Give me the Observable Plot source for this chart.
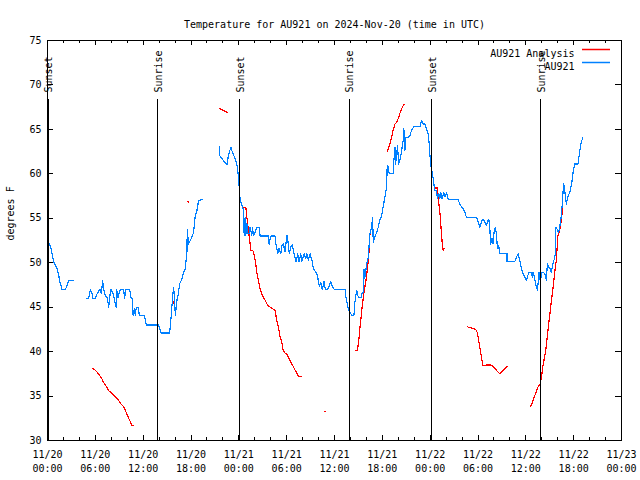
<!DOCTYPE html>
<html><head><meta charset="utf-8">
<script src="https://cdn.jsdelivr.net/npm/d3@7"></script>
<script src="https://cdn.jsdelivr.net/npm/@observablehq/plot@0.6"></script>
<style>body{margin:0;background:#fff}</style>
</head><body><div id="chart"></div>
<script>
// ---- Data (hours after 2024-11-20 00:00 UTC, temperature °F) ----
const titleText = "Temperature for AU921 on 2024-Nov-20 (time in UTC)";
const yLabel = "degrees F";
const seriesNames = ["AU921 Analysis", "AU921"];
const seriesColors = ["#ff0000", "#0080ff"];
const yTicks = [30, 35, 40, 45, 50, 55, 60, 65, 70, 75];
const majorTickHours = [0, 6, 12, 18, 24, 30, 36, 42, 48, 54, 60, 66, 72];
const minorTickHours = d3.range(0, 73, 2);

const sunsetHours = [0.07, 24.10, 48.17];
const sunriseHours = [13.82, 37.86, 61.86];

// observed (blue) segments
const obsSegA = [[0.25,52.1],[0.50,51.4],[0.66,50.6],[0.79,50.1],[1.00,49.7],[1.21,49.3],[1.41,48.6],[1.50,48.0],[1.72,47.4],[1.73,47.0],[2.25,47.0],[2.47,47.5],[2.67,48.0],[3.29,48.0]];
const obsSegB = [[4.85,46.0],[5.17,46.0],[5.38,47.0],[5.60,46.5],[5.67,46.0],[6.01,46.0],[6.22,46.5],[6.42,46.8],[6.64,47.0],[6.76,46.5],[6.92,48.0],[7.05,47.0],[7.26,46.3],[7.48,46.1],[7.68,45.0],[7.76,46.0],[7.98,47.0],[8.23,46.5],[8.39,45.9],[8.60,45.0],[8.68,47.0],[8.85,46.1],[9.02,46.7],[9.14,47.0],[9.55,47.0],[9.68,46.0],[9.80,47.0],[10.31,47.0],[10.48,46.0],[10.64,46.0],[10.73,44.1],[10.89,44.8],[11.02,44.1],[11.14,45.0],[11.36,45.0],[11.52,44.1],[12.15,44.1],[12.40,43.0],[13.74,43.0],[13.94,43.0],[14.24,42.1],[15.31,42.1],[15.40,42.8],[15.53,44.2],[15.69,46.1],[15.82,47.2],[15.94,45.8],[16.03,44.1],[16.24,45.8],[16.37,46.3],[16.57,47.6],[16.87,48.2],[17.07,48.9],[17.28,49.3],[17.49,51.2],[17.53,53.7],[17.69,52.1],[17.91,52.5],[18.12,52.9],[18.32,53.4],[18.53,55.3],[18.75,55.9],[18.95,57.0],[19.37,57.1]];
const obsSegC = [[21.54,63.1],[21.55,62.1],[21.88,61.7],[22.50,61.0],[22.70,62.1],[23.00,63.0],[23.20,62.4],[23.54,61.7],[23.83,60.8],[23.95,59.6],[24.04,58.6],[24.08,57.6],[24.26,56.8],[24.51,56.1],[24.58,56.1],[24.67,53.1],[24.79,55.1],[24.88,53.1],[25.01,54.4],[25.08,53.3],[25.29,53.3],[25.42,54.0],[25.63,53.1],[25.71,54.0],[25.83,53.1],[26.05,53.4],[26.26,54.0],[26.55,54.0],[26.67,53.0],[27.71,53.0],[27.80,52.1],[28.01,53.0],[28.55,53.0],[28.64,52.1],[28.89,51.0],[29.05,51.6],[29.26,51.0],[29.39,51.9],[29.59,52.1],[29.80,51.2],[30.02,53.1],[30.14,52.6],[30.34,51.0],[30.55,51.9],[30.72,52.0],[30.93,51.0],[31.18,50.1],[31.39,51.0],[31.56,50.1],[31.77,51.0],[31.89,50.1],[32.18,51.0],[32.39,50.5],[32.52,51.0],[32.72,50.3],[32.93,51.0],[33.22,50.1],[33.35,49.3],[33.68,48.9],[33.85,48.6],[34.10,47.3],[34.27,47.8],[34.47,47.0],[34.69,47.9],[34.85,47.0],[35.10,47.0],[35.31,47.3],[35.52,47.9],[35.73,47.3],[35.98,47.0],[37.32,47.0],[37.44,46.1],[37.61,45.4],[37.73,44.8],[37.85,44.6],[38.03,44.3],[38.15,44.1],[38.44,44.1],[38.53,45.4],[38.65,46.1],[38.78,46.9],[38.91,46.3],[39.07,46.1],[39.32,46.1],[39.44,46.5],[39.61,46.7],[39.70,49.3],[39.79,48.2],[39.91,48.9],[40.03,49.9],[40.23,50.6],[40.45,53.3],[40.66,54.0],[40.78,55.1],[40.86,52.3],[41.07,52.9],[41.28,53.4],[41.49,54.0],[41.70,54.8],[41.91,55.3],[42.11,56.3],[42.32,57.4],[42.54,58.5],[42.61,60.9],[42.74,60.8],[42.86,60.0],[43.36,60.0],[43.45,61.5],[43.58,63.0],[43.66,61.1],[43.79,62.1],[43.91,63.2],[44.04,61.1],[44.20,61.5],[44.42,62.6],[44.62,63.8],[44.70,65.1],[44.83,62.6],[44.95,64.1],[45.24,64.1],[45.45,64.3],[45.67,64.9],[45.96,65.3],[46.71,65.3],[46.92,66.0],[47.12,65.6],[47.33,65.6],[47.55,65.0],[47.75,64.5],[47.87,63.4],[47.96,62.2],[48.12,60.8],[48.29,60.0],[48.58,58.1],[48.79,58.1],[48.92,57.2],[49.08,57.8],[49.21,57.2],[49.33,57.9],[49.50,57.2],[49.71,57.9],[49.87,57.4],[50.05,57.9],[50.25,57.2],[50.46,57.1],[51.50,57.1],[51.72,56.6],[51.93,56.3],[52.13,56.1],[52.34,55.7],[52.55,55.1],[53.81,55.1],[54.01,54.6],[54.22,54.0],[54.43,54.6],[54.63,54.9],[54.85,54.6],[55.06,54.2],[55.19,54.6],[55.35,54.9],[55.47,54.0],[55.60,52.1],[55.76,52.7],[55.89,52.1],[56.01,53.4],[56.19,54.0],[56.32,53.1],[56.44,51.6],[56.60,51.9],[56.73,51.0],[57.64,51.0],[57.65,50.1],[58.60,50.1],[58.81,50.6],[59.02,51.0],[59.14,50.6],[59.32,49.9],[59.52,49.1],[59.73,48.6],[59.98,48.2],[60.07,48.0],[60.27,48.6],[60.40,48.9],[60.70,48.9],[60.82,48.4],[60.90,48.9],[61.02,48.6],[61.20,47.8],[61.32,47.3],[61.45,46.9],[61.52,47.6],[61.61,48.0],[61.65,48.9],[61.73,48.2],[61.86,48.0],[61.95,48.9],[62.23,48.9],[62.48,48.6],[62.57,48.0],[62.70,49.9],[62.86,49.5],[63.07,49.3],[63.20,48.9],[63.40,49.9],[63.57,50.4],[63.70,51.0],[63.74,54.0],[63.90,53.8],[64.11,53.4],[64.32,54.4],[64.45,55.3],[64.57,56.6],[64.74,58.9],[64.86,58.3],[65.08,56.6],[65.20,57.2],[65.36,57.6],[65.58,58.1],[65.78,59.1],[65.90,60.0],[66.11,61.1],[66.53,61.1],[66.74,62.4],[66.96,63.6],[67.16,64.1]];

// analysis (red) segments
const anSeg1 = [[5.67,38.1],[6.01,37.9],[6.30,37.6],[6.64,37.2],[6.85,36.9],[7.05,36.5],[7.35,36.1],[7.68,35.6],[8.10,35.3],[8.52,34.9],[8.93,34.5],[9.23,34.1],[9.55,33.8],[9.77,33.4],[9.98,32.9],[10.18,32.5],[10.39,32.1],[10.61,31.7],[10.81,31.7]];
const anSeg2 = [[15.75,45.6],[15.85,45.4]];
const anSeg3 = [[17.60,56.9],[17.70,56.8]];
const anSeg4 = [[21.54,67.4],[21.91,67.2],[22.16,67.1],[22.54,66.9]];
const anSeg5 = [[24.58,56.2],[24.88,56.2],[25.01,55.1],[25.21,53.6],[25.42,52.1],[25.51,51.4],[25.83,51.3],[26.05,50.3],[26.26,48.9],[26.46,48.0],[26.67,47.0],[26.96,46.3],[27.30,45.8],[27.51,45.4],[27.72,45.1],[28.14,44.9],[28.55,44.6],[28.76,43.5],[28.97,42.8],[29.18,41.6],[29.39,41.1],[29.51,40.3],[29.72,39.9],[30.02,39.7],[30.22,39.4],[30.43,39.0],[30.64,38.6],[30.85,38.3],[31.06,37.9],[31.27,37.6],[31.48,37.2],[31.81,37.2]];
const anSeg6 = [[34.75,33.3],[34.90,33.3]];
const anSeg7 = [[38.61,40.1],[38.90,40.1],[38.98,40.9],[39.11,41.8],[39.20,42.8],[39.32,43.7],[39.44,44.8],[39.61,46.1],[39.73,46.9],[39.95,48.0],[40.07,48.9],[40.20,49.9],[40.28,50.8],[40.36,51.4],[40.45,53.3],[40.50,53.4]];
const anSeg8 = [[42.61,62.5],[42.74,62.8],[42.95,63.4],[43.16,64.1],[43.36,64.9],[43.58,65.6],[43.79,65.8],[43.99,66.2],[44.20,66.8],[44.42,67.3],[44.62,67.7],[44.74,67.8]];
const anSeg9 = [[48.67,58.4],[48.92,58.4],[48.93,57.8],[49.00,57.2],[49.09,56.6],[49.21,55.7],[49.30,54.9],[49.34,54.2],[49.42,53.3],[49.50,52.3],[49.55,51.9],[49.63,51.4],[49.71,51.6],[49.80,51.6]];
const anSeg10 = [[52.63,42.8],[52.97,42.7],[53.38,42.6],[53.72,42.5],[53.93,42.1],[54.22,40.5],[54.43,39.4],[54.63,38.4],[55.06,38.5],[55.64,38.5],[56.10,38.1],[56.73,37.5],[57.64,38.3]];
const anSeg11 = [[60.61,33.8],[60.90,34.5],[61.23,35.3],[61.52,36.0],[61.82,36.4],[61.95,37.1],[62.15,38.4],[62.49,40.1],[62.78,42.4],[63.11,45.0],[63.40,47.1],[63.65,49.1],[63.83,50.3],[64.03,53.1],[64.24,53.6],[64.45,54.8],[64.57,55.7],[64.65,56.6]];

// ---- Build tables ----
const start = Date.UTC(2024, 10, 20);
const toDate = h => new Date(start + h * 3600e3);
const rows = (segs, name) => segs.flatMap((seg, i) => seg.map(([h, t]) => ({date: toDate(h), temp: t, seg: name + i})));
const obsRows = rows([obsSegA, obsSegB, obsSegC], "obs");
const anRows = rows([anSeg1, anSeg2, anSeg3, anSeg4, anSeg5, anSeg6, anSeg7, anSeg8, anSeg9, anSeg10, anSeg11], "an");
const sunEvents = [
  ...sunsetHours.map(h => ({date: toDate(h), label: "Sunset"})),
  ...sunriseHours.map(h => ({date: toDate(h), label: "Sunrise"}))
];
const majorTicks = majorTickHours.map(toDate);
const minorTicks = minorTickHours.map(toDate);
const fmt = d3.utcFormat("%m/%d\n%H:%M");
const font = "'DejaVu Sans Mono', monospace";
const crisp = {stroke: "#000", shapeRendering: "crispEdges"};

const plot = Plot.plot({
  width: 640, height: 480,
  marginLeft: 47, marginRight: 19, marginTop: 40, marginBottom: 40,
  style: {fontFamily: font, fontSize: "10px", background: "#fff", color: "#000"},
  x: {type: "utc", domain: [toDate(0), toDate(72)]},
  y: {domain: [30, 75]},
  marks: [
    Plot.line(anRows, {x: "date", y: "temp", z: "seg", stroke: seriesColors[0], strokeWidth: 1.2, shapeRendering: "crispEdges"}),
    Plot.line(obsRows, {x: "date", y: "temp", z: "seg", stroke: seriesColors[1], strokeWidth: 1.2, shapeRendering: "crispEdges"}),
    Plot.ruleX(sunEvents, {x: "date", insetTop: 59, strokeWidth: 1.5, ...crisp}),
    Plot.text(sunEvents, {x: "date", text: "label", frameAnchor: "top", dy: 52, dx: -3, rotate: -90, textAnchor: "start"}),
    Plot.frame(crisp),
    // inward ticks on all four sides
    Plot.tickX(minorTicks, {x: d => d, insetTop: 397, ...crisp}),
    Plot.tickX(minorTicks, {x: d => d, insetBottom: 397, ...crisp}),
    Plot.tickX(majorTicks, {x: d => d, insetTop: 395, ...crisp}),
    Plot.tickX(majorTicks, {x: d => d, insetBottom: 395, ...crisp}),
    Plot.tickY(yTicks, {y: d => d, insetRight: 568, ...crisp}),
    Plot.tickY(yTicks, {y: d => d, insetLeft: 568, ...crisp}),
    Plot.axisX(majorTicks, {tickSize: 0, tickPadding: 8, tickFormat: fmt, lineHeight: 1.4, label: null}),
    Plot.axisY(yTicks, {tickSize: 0, tickPadding: 6, label: null}),
    Plot.text([yLabel], {frameAnchor: "left", dx: -37, rotate: -90}),
    Plot.text([titleText], {frameAnchor: "top", dy: -20}),
    Plot.text([seriesNames[0]], {frameAnchor: "top-right", textAnchor: "end", dx: -47, dy: 9.5}),
    Plot.text([seriesNames[1]], {frameAnchor: "top-right", textAnchor: "end", dx: -47, dy: 22.5})
  ]
});
document.getElementById("chart").appendChild(plot);
// legend swatches
const svg = d3.select(plot);
seriesColors.forEach((c, i) => {
  svg.append("line").attr("x1", 582).attr("x2", 610)
    .attr("y1", 49.5 + i * 13).attr("y2", 49.5 + i * 13)
    .attr("stroke", c).attr("stroke-width", 1.5);
});
</script></body></html>
